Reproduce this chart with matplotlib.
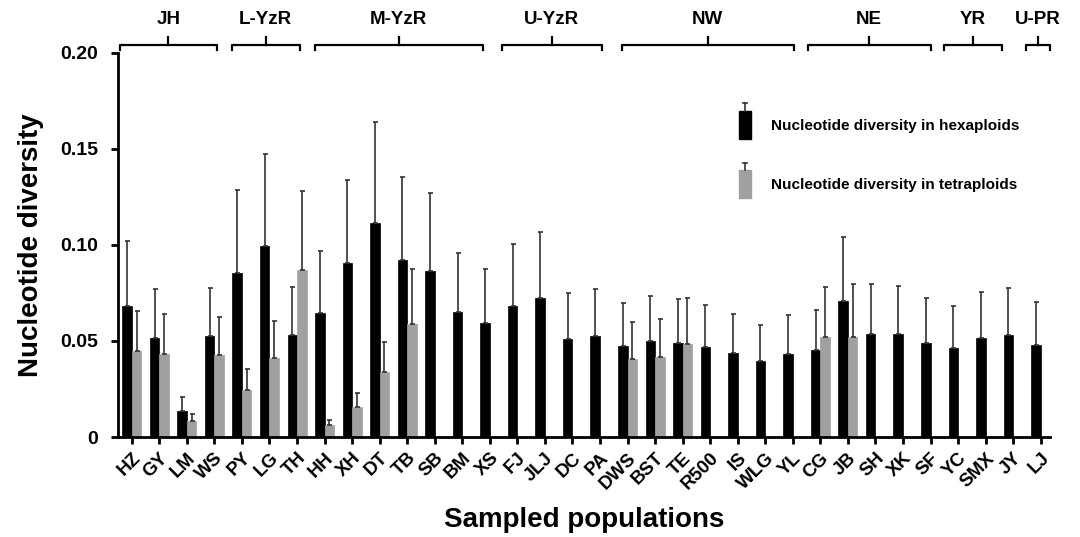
import matplotlib
matplotlib.use("Agg")
import matplotlib.pyplot as plt
import matplotlib.transforms as mtransforms
from matplotlib.legend_handler import HandlerPatch
from matplotlib.lines import Line2D
from matplotlib.patches import Rectangle
import numpy as np

plt.rcParams['font.family'] = ['Liberation Sans', 'DejaVu Sans']
plt.rcParams['font.weight'] = 'bold'

# Poblaciones
poblaciones = ['HZ', 'GY', 'LM', 'WS', 'PY', 'LG', 'TH', 'HH', 'XH', 'DT', 'TB', 'SB',
               'BM', 'XS', 'FJ', 'JLJ', 'DC', 'PA', 'DWS', 'BST', 'TE', 'R500', 'IS',
               'WLG', 'YL', 'CG', 'JB', 'SH', 'XK', 'SF', 'YC', 'SMX', 'JY', 'LJ']

# Diversidad en hexaploides (media y extremo superior del error)
hexa = [0.0681, 0.0514, 0.0137, 0.0524, 0.0854, 0.0993, 0.0530, 0.0648, 0.0908, 0.1115,
        0.0919, 0.0863, 0.0649, 0.0594, 0.0682, 0.0724, 0.0510, 0.0526, 0.0472, 0.0502,
        0.0490, 0.0468, 0.0438, 0.0398, 0.0434, 0.0452, 0.0708, 0.0538, 0.0536, 0.0492,
        0.0466, 0.0516, 0.0530, 0.0479]
hexa_sup = [0.1018, 0.0771, 0.0207, 0.0776, 0.1285, 0.1472, 0.0780, 0.0969, 0.1339, 0.1641,
            0.1351, 0.1271, 0.0957, 0.0875, 0.1005, 0.1066, 0.0752, 0.0773, 0.0698, 0.0736,
            0.0721, 0.0686, 0.0643, 0.0583, 0.0637, 0.0663, 0.1042, 0.0794, 0.0787, 0.0722,
            0.0681, 0.0757, 0.0778, 0.0703]

# Diversidad en tetraploides (NaN = sin datos)
nan = np.nan
tetra = [0.0446, 0.0434, 0.0083, 0.0426, 0.0243, 0.0410, 0.0868, 0.0063, 0.0156, 0.0337,
         0.0587, nan, nan, nan, nan, nan, nan, nan, 0.0405, 0.0417,
         0.0486, nan, nan, nan, nan, 0.0521, 0.0519, nan, nan, nan,
         nan, nan, nan, nan]
tetra_sup = [0.0656, 0.0639, 0.0122, 0.0625, 0.0356, 0.0604, 0.1278, 0.0091, 0.0231, 0.0497,
             0.0875, nan, nan, nan, nan, nan, nan, nan, 0.0597, 0.0615,
             0.0726, nan, nan, nan, nan, 0.0781, 0.0795, nan, nan, nan,
             nan, nan, nan, nan]

# Grupos regionales (limites de las llaves en unidades de categoria)
grupos = ['JH', 'L-YzR', 'M-YzR', 'U-YzR', 'NW', 'NE', 'YR', 'U-PR']
grupo_ini = [-0.44, 3.63, 6.64, 13.43, 17.79, 24.54, 29.5, 32.45]
grupo_fin = [3.09, 6.10, 12.74, 17.06, 24.03, 29.0, 31.6, 33.35]

x = np.arange(len(poblaciones))
hexa = np.array(hexa)
tetra = np.array(tetra)
err_hexa = np.array(hexa_sup) - hexa
err_tetra = np.array(tetra_sup) - tetra
w = 0.345


# Manejador de leyenda: barra con su pequeña barra de error encima
class HandlerBarraError(HandlerPatch):
    def create_artists(self, legend, orig_handle, xdescent, ydescent, width, height,
                       fontsize, trans):
        arts = super().create_artists(legend, orig_handle, xdescent, ydescent,
                                      width, height, fontsize, trans)
        cx = -xdescent + width / 2
        top = -ydescent + height
        tip = top + 0.25 * height
        arts.append(Line2D([cx, cx], [top, tip], color='#333333', lw=1.2, transform=trans))
        arts.append(Line2D([cx - 1.5, cx + 1.5], [tip, tip], color='#333333', lw=1.2,
                           transform=trans))
        return arts


fig = plt.figure(figsize=(10.8, 5.37), dpi=100)
ax = fig.add_axes([0.109, 0.186, 0.863, 0.716])

ekw = dict(ecolor='#333333', elinewidth=1.2, capsize=1.8, capthick=1.2)
ax.bar(x - w / 2, hexa, w, color='black', edgecolor='black', linewidth=0.5,
       yerr=[np.zeros_like(hexa), err_hexa], error_kw=ekw)
ax.bar(x + w / 2, tetra, w, color='#a0a0a0', edgecolor='#a0a0a0', linewidth=0.5,
       yerr=[np.zeros_like(tetra), err_tetra], error_kw=ekw)

ax.set_xlim(-0.51, 33.33)
ax.set_ylim(0, 0.20)
ax.set_yticks([0, 0.05, 0.10, 0.15, 0.20])
ax.set_yticklabels(['0', '0.05', '0.10', '0.15', '0.20'], fontsize=14, fontweight='bold')
ax.set_xticks(x)
ax.set_xticklabels(poblaciones, rotation=45, ha='right', rotation_mode='anchor',
                   fontsize=13.5, fontweight='bold')
ax.tick_params(axis='both', direction='out', length=5, width=2)
ax.tick_params(axis='x', pad=4)
ax.tick_params(axis='y', pad=9)
for s in ['top', 'right']:
    ax.spines[s].set_visible(False)
for s in ['left', 'bottom']:
    ax.spines[s].set_linewidth(2)

ax.set_ylabel('Nucleotide diversity', fontsize=20, fontweight='bold', labelpad=12)
ax.set_xlabel('Sampled populations', fontsize=20, fontweight='bold', labelpad=10)

# Llaves de grupos
trans = mtransforms.blended_transform_factory(ax.transData, ax.transAxes)
for nombre, a, b in zip(grupos, grupo_ini, grupo_fin):
    m = (a + b) / 2
    ax.plot([a, a, b, b], [1.007, 1.020, 1.020, 1.007], color='black', lw=1.6,
            transform=trans, clip_on=False)
    ax.plot([m, m], [1.020, 1.041], color='black', lw=1.6, transform=trans, clip_on=False)
    ax.text(m, 1.085, nombre, transform=trans, ha='center', va='center',
            fontsize=13.5, fontweight='bold')

# Leyenda
h1 = Rectangle((0, 0), 1, 1, facecolor='black', edgecolor='black')
h2 = Rectangle((0, 0), 1, 1, facecolor='#a0a0a0', edgecolor='#a0a0a0')
ax.legend([h1, h2], ['Nucleotide diversity in hexaploids', 'Nucleotide diversity in tetraploids'],
          handler_map={Rectangle: HandlerBarraError()},
          loc='upper left', bbox_to_anchor=(0.652, 0.885), frameon=False,
          handlelength=0.8, handleheight=2.5, labelspacing=2.0,
          handletextpad=1.3, prop={'size': 11, 'weight': 'bold'})

fig.savefig('out.png', dpi=100)
